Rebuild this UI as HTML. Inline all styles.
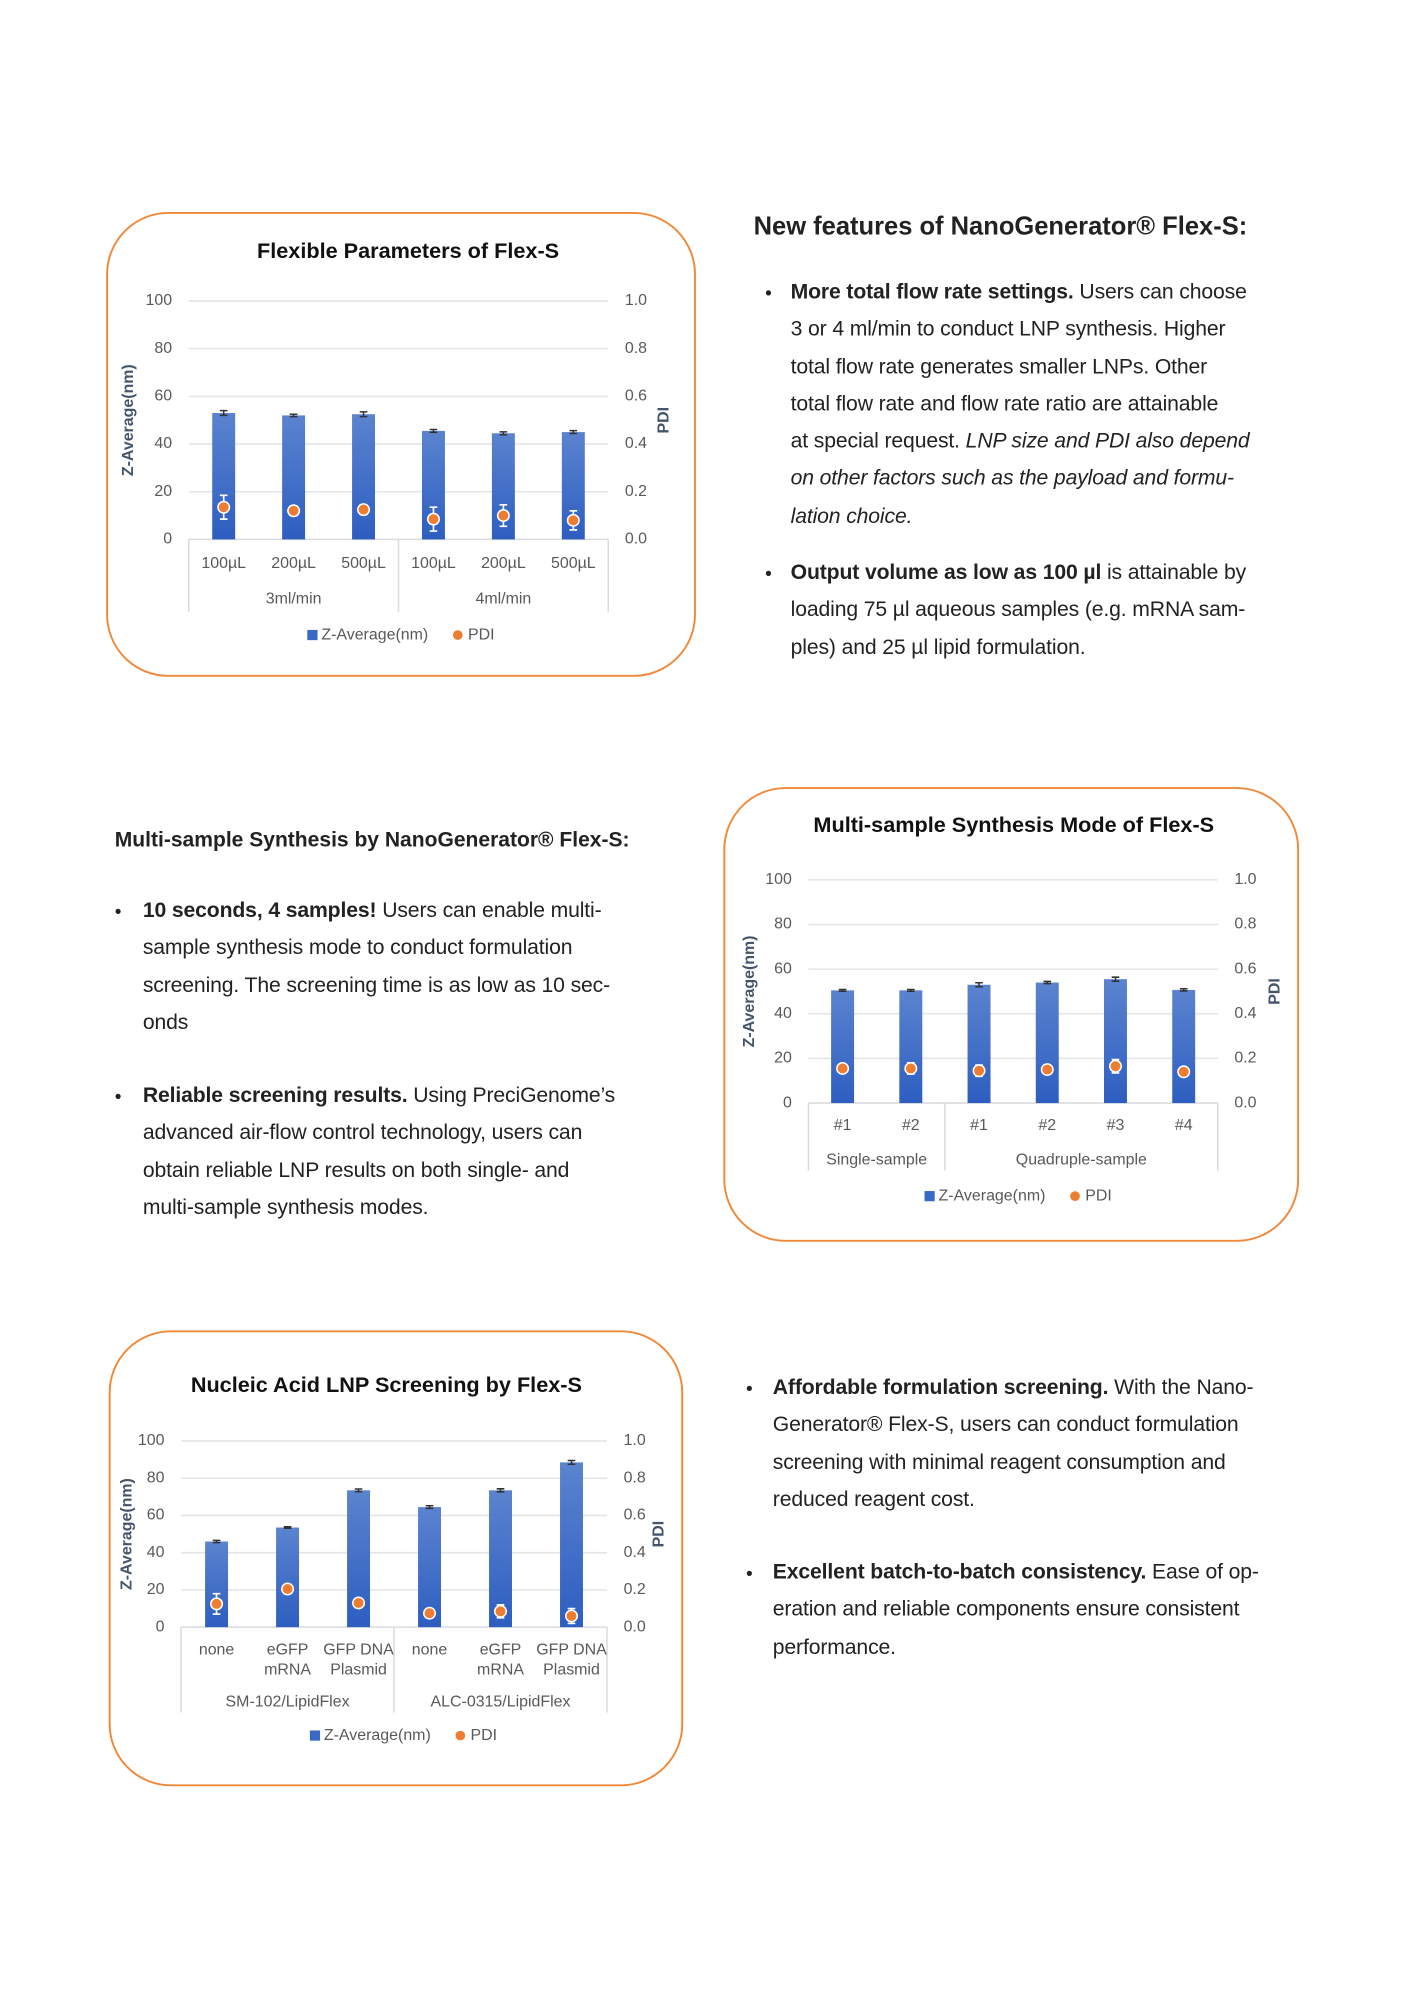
<!DOCTYPE html>
<html><head><meta charset="utf-8">
<style>
html,body{margin:0;padding:0;background:#fff;}
body{width:1414px;height:2000px;overflow:hidden;position:relative;}
#wrap{position:absolute;left:0;top:0;width:1110px;height:1570px;transform:scale(1.2752);transform-origin:0 0;}
.txt{position:absolute;font-family:"Liberation Sans",sans-serif;color:#222;white-space:nowrap;}
.h{font-weight:bold;}
.p{font-size:16.6px;line-height:29.3px;letter-spacing:-0.1px;}
.dot{position:absolute;font-family:"Liberation Sans",sans-serif;font-size:15px;color:#222;}
svg text{font-family:"Liberation Sans",sans-serif;}
</style></head>
<body>
<div id="wrap">
<svg id="charts" width="1110" height="1570" style="position:absolute;left:0;top:0">
<defs>
<linearGradient id="barGrad" x1="0" y1="0" x2="0" y2="1">
<stop offset="0" stop-color="#5b83cf"/><stop offset="1" stop-color="#2d5ec0"/>
</linearGradient>
</defs>
</svg>

<div class="txt h" style="left:591px;top:167px;font-size:20px;">New features of NanoGenerator® Flex-S:</div>
<div class="dot" style="left:600px;top:222px;">•</div>
<div class="txt p" style="left:620px;top:214px;"><b>More total flow rate settings.</b> Users can choose<br>3 or 4 ml/min to conduct LNP synthesis. Higher<br>total flow rate generates smaller LNPs. Other<br>total flow rate and flow rate ratio are attainable<br>at special request. <i>LNP size and PDI also depend</i><br><i>on other factors such as the payload and formu-</i><br><i>lation choice.</i></div>
<div class="dot" style="left:600px;top:442px;">•</div>
<div class="txt p" style="left:620px;top:434px;"><b>Output volume as low as 100 µl</b> is attainable by<br>loading 75 µl aqueous samples (e.g. mRNA sam-<br>ples) and 25 µl lipid formulation.</div>

<div class="txt h" style="left:90px;top:650px;font-size:16.5px;">Multi-sample Synthesis by NanoGenerator® Flex-S:</div>
<div class="dot" style="left:90px;top:707px;">•</div>
<div class="txt p" style="left:112px;top:699px;"><b>10 seconds, 4 samples!</b> Users can enable multi-<br>sample synthesis mode to conduct formulation<br>screening. The screening time is as low as 10 sec-<br>onds</div>
<div class="dot" style="left:90px;top:852px;">•</div>
<div class="txt p" style="left:112px;top:844px;"><b>Reliable screening results.</b> Using PreciGenome’s<br>advanced air-flow control technology, users can<br>obtain reliable LNP results on both single- and<br>multi-sample synthesis modes.</div>

<div class="dot" style="left:585px;top:1081px;">•</div>
<div class="txt p" style="left:606px;top:1073px;"><b>Affordable formulation screening.</b> With the Nano-<br>Generator® Flex-S, users can conduct formulation<br>screening with minimal reagent consumption and<br>reduced reagent cost.</div>
<div class="dot" style="left:585px;top:1226px;">•</div>
<div class="txt p" style="left:606px;top:1218px;"><b>Excellent batch-to-batch consistency.</b> Ease of op-<br>eration and reliable components ensure consistent<br>performance.</div>
</div>

<script>
// Chart 1 data
const c1Categories = ["100µL","200µL","500µL","100µL","200µL","500µL"];
const c1Groups = ["3ml/min","4ml/min"];
const c1Z = [53, 52, 52.5, 45.5, 44.5, 45];
const c1ZErr = [1, 0.5, 1, 0.6, 0.6, 0.6];
const c1PDI = [0.135, 0.12, 0.125, 0.085, 0.10, 0.08];
const c1PDIErr = [0.05, 0.02, 0.02, 0.05, 0.045, 0.04];
// Chart 2 data
const c2Categories = ["#1","#2","#1","#2","#3","#4"];
const c2Groups = ["Single-sample","Quadruple-sample"];
const c2GroupSizes = [2, 4];
const c2Z = [50.5, 50.5, 53, 54, 55.5, 50.7];
const c2ZErr = [0.4, 0.4, 0.9, 0.5, 0.9, 0.5];
const c2PDI = [0.155, 0.155, 0.145, 0.15, 0.165, 0.14];
const c2PDIErr = [0.01, 0.025, 0.025, 0.02, 0.03, 0.005];
// Chart 3 data
const c3Categories = ["none","eGFP\nmRNA","GFP DNA\nPlasmid","none","eGFP\nmRNA","GFP DNA\nPlasmid"];
const c3Groups = ["SM-102/LipidFlex","ALC-0315/LipidFlex"];
const c3Z = [46, 53.5, 73.5, 64.5, 73.5, 88.5];
const c3ZErr = [0.6, 0.4, 0.7, 0.7, 0.8, 1];
const c3PDI = [0.125, 0.205, 0.13, 0.075, 0.085, 0.06];
const c3PDIErr = [0.055, 0.025, 0.025, 0.01, 0.035, 0.04];
const leftTicks = [0, 20, 40, 60, 80, 100];
const rightTicks = ["0.0","0.2","0.4","0.6","0.8","1.0"];

const NS = "http://www.w3.org/2000/svg";
const svg = document.getElementById("charts");
function mk(tag, attrs, parent, txt){
  const e = document.createElementNS(NS, tag);
  for (const k in attrs) e.setAttribute(k, attrs[k]);
  if (txt !== undefined) e.textContent = txt;
  (parent || svg).appendChild(e);
  return e;
}

function drawChart(cfg){
  const g = mk("g", {});
  
  
  const box = mk("rect", {x:cfg.box[0], y:cfg.box[1], width:cfg.box[2]-cfg.box[0], height:cfg.box[3]-cfg.box[1], rx:48, ry:48, fill:"none", stroke:"#f0883a", "stroke-width":1.5}, g);
  
  
  const t = mk("text", {x:cfg.titleX, y:cfg.titleY, "text-anchor":"middle", "font-size":17, "font-weight":"bold", fill:"#111", "dominant-baseline":"middle"}, g, cfg.title);
  
  
  const L = cfg.left, R = cfg.right, T = cfg.top, B = cfg.bottom;
  const yS = v => B - (v/100)*(B-T);
  const yP = v => B - v*(B-T);
  const n = cfg.cats.length;
  const step = (R-L)/n;
  const xC = i => L + step*(i+0.5);
  leftTicks.forEach((v,i)=>{
    if (v>0){ const gl = mk("line",{x1:L,x2:R,y1:yS(v),y2:yS(v),stroke:"#e2e4e8","stroke-width":1.2},g);
        }
    const lt = mk("text",{x:L-13,y:yS(v),"text-anchor":"end","dominant-baseline":"middle","font-size":12.5,fill:"#595959"},g,String(v));
     
    const rt = mk("text",{x:R+13,y:yS(v),"text-anchor":"start","dominant-baseline":"middle","font-size":12.5,fill:"#595959"},g,rightTicks[i]);
     
  });
  const ax = mk("line",{x1:L,x2:R,y1:B,y2:B,stroke:"#d9dbe0","stroke-width":1.2},g);
   
  let idx = 0;
  const seps = [0];
  cfg.groupSizes.forEach(s=>{ idx += s; seps.push(idx); });
  seps.forEach(k=>{
    const sx = L + step*k;
    const s = mk("line",{x1:sx,x2:sx,y1:B,y2:cfg.sepBottom,stroke:"#d9dbe0","stroke-width":1.2},g);
     
  });
  cfg.groups.forEach((gn,k)=>{
    const gx = L + step*(seps[k]+seps[k+1])/2;
    const gt = mk("text",{x:gx,y:cfg.groupY,"text-anchor":"middle","dominant-baseline":"middle","font-size":12.5,fill:"#595959"},g,gn);
     
  });
  const bw = 18;
  cfg.cats.forEach((c,i)=>{
    const x = xC(i);
    const bar = mk("rect",{x:x-bw/2,y:yS(cfg.z[i]),width:bw,height:B-yS(cfg.z[i]),fill:"url(#barGrad)"},g);
     
    const e1 = yS(cfg.z[i]+cfg.zErr[i]), e2 = yS(cfg.z[i]-cfg.zErr[i]);
    const eb = mk("path",{d:`M${x},${e1}V${e2}M${x-3},${e1}H${x+3}M${x-3},${e2}H${x+3}`,stroke:"#333","stroke-width":1.2,fill:"none"},g);
     
    const p1 = yP(cfg.pdi[i]+cfg.pdiErr[i]), p2 = yP(cfg.pdi[i]-cfg.pdiErr[i]);
    const pe = mk("path",{d:`M${x},${p1}V${p2}M${x-3},${p1}H${x+3}M${x-3},${p2}H${x+3}`,stroke:"#fff","stroke-width":1.3,fill:"none"},g);
     
    const pt = mk("circle",{cx:x,cy:yP(cfg.pdi[i]),r:4.5,fill:"#ed7d31",stroke:"#fff","stroke-width":1.2},g);
     
    const lines = c.split("\n");
    lines.forEach((ln,j)=>{
      const ct = mk("text",{x:x,y:cfg.catY+j*16,"text-anchor":"middle","dominant-baseline":"middle","font-size":12.5,fill:"#595959"},g,ln);
       
    });
  });
  const ym = (T+B)/2;
  const yt = mk("text",{x:cfg.yTitleX,y:ym,"text-anchor":"middle","dominant-baseline":"middle","font-size":12.5,"font-weight":"bold",fill:"#44546a",transform:`rotate(-90 ${cfg.yTitleX} ${ym})`},g,"Z-Average(nm)");
   
  const pt2 = mk("text",{x:cfg.pTitleX,y:ym,"text-anchor":"middle","dominant-baseline":"middle","font-size":12.5,"font-weight":"bold",fill:"#44546a",transform:`rotate(-90 ${cfg.pTitleX} ${ym})`},g,"PDI");
   
  const lx = cfg.legendX;
  const ls = mk("rect",{x:lx,y:cfg.legendY-4,width:8,height:8,fill:"#3a68c6"},g);
   
  const lt1 = mk("text",{x:lx+11,y:cfg.legendY,"dominant-baseline":"middle","font-size":12.5,fill:"#595959"},g,"Z-Average(nm)");
   
  const lc = mk("circle",{cx:lx+118,cy:cfg.legendY,r:3.8,fill:"#ed7d31"},g);
   
  const lt2 = mk("text",{x:lx+126,y:cfg.legendY,"dominant-baseline":"middle","font-size":12.5,fill:"#595959"},g,"PDI");
   
}

drawChart({name:"flexible-parameters-chart", box:[84,167,545,530], title:"Flexible Parameters of Flex-S", titleX:320, titleY:198,
  left:148, right:477, top:236, bottom:423, cats:c1Categories, groups:c1Groups, groupSizes:[3,3],
  z:c1Z, zErr:c1ZErr, pdi:c1PDI, pdiErr:c1PDIErr, catY:442, groupY:470, sepBottom:480,
  yTitleX:101, pTitleX:521, legendX:241, legendY:498});
drawChart({name:"multi-sample-chart", box:[568,618,1018,973], title:"Multi-sample Synthesis Mode of Flex-S", titleX:795, titleY:648,
  left:634, right:955, top:690, bottom:865, cats:c2Categories, groups:c2Groups, groupSizes:c2GroupSizes,
  z:c2Z, zErr:c2ZErr, pdi:c2PDI, pdiErr:c2PDIErr, catY:883, groupY:910, sepBottom:918,
  yTitleX:588, pTitleX:1000, legendX:725, legendY:938});
drawChart({name:"nucleic-acid-chart", box:[86,1044,535,1400], title:"Nucleic Acid LNP Screening by Flex-S", titleX:303, titleY:1087,
  left:142, right:476, top:1130, bottom:1276, cats:c3Categories, groups:c3Groups, groupSizes:[3,3],
  z:c3Z, zErr:c3ZErr, pdi:c3PDI, pdiErr:c3PDIErr, catY:1294, groupY:1335, sepBottom:1343,
  yTitleX:100, pTitleX:517, legendX:243, legendY:1361});
</script>
</body></html>
